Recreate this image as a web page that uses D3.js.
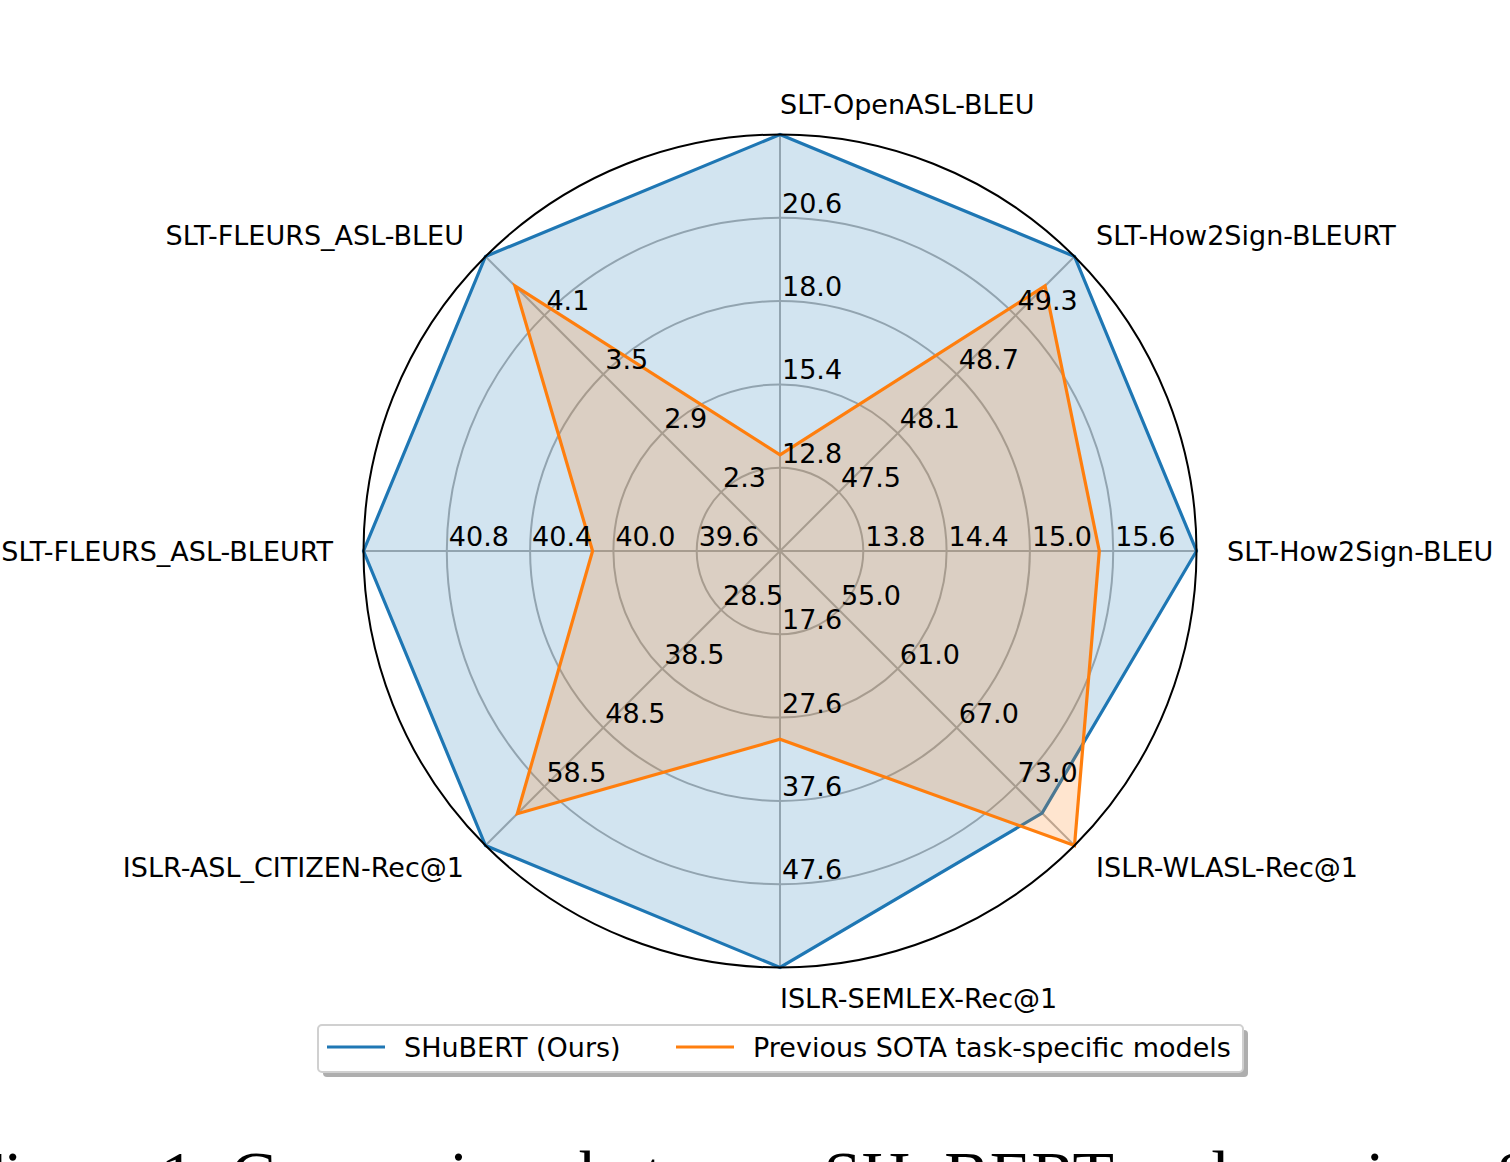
<!DOCTYPE html>
<html>
<head>
<meta charset="utf-8">
<script src="https://cdn.jsdelivr.net/npm/d3@7"></script>
<style>
  html, body { margin: 0; padding: 0; background: #fff; overflow: hidden; }
  svg { display: block; }
</style>
</head>
<body>
<svg id="chart" width="1510" height="1162"></svg>
<script>
// ---------- data ----------
const categories = [
  "SLT-OpenASL-BLEU",
  "SLT-How2Sign-BLEURT",
  "SLT-How2Sign-BLEU",
  "ISLR-WLASL-Rec@1",
  "ISLR-SEMLEX-Rec@1",
  "ISLR-ASL_CITIZEN-Rec@1",
  "SLT-FLEURS_ASL-BLEURT",
  "SLT-FLEURS_ASL-BLEU"
];
const rangeMin = [10.2, 46.9, 13.2, 49.0, 7.6, 18.5, 39.2, 1.7];
const rangeMax = [23.2, 49.9, 16.2, 79.0, 57.6, 68.5, 41.2, 4.7];
const tickValues = [
  [12.8, 15.4, 18.0, 20.6],
  [47.5, 48.1, 48.7, 49.3],
  [13.8, 14.4, 15.0, 15.6],
  [55.0, 61.0, 67.0, 73.0],
  [17.6, 27.6, 37.6, 47.6],
  [28.5, 38.5, 48.5, 58.5],
  [39.6, 40.0, 40.4, 40.8],
  [2.3, 2.9, 3.5, 4.1]
];
const seriesNames = ["SHuBERT (Ours)", "Previous SOTA task-specific models"];
const shubert = [23.2, 49.9, 16.2, 75.7, 57.6, 68.5, 41.2, 4.7];
const sota    = [13.2, 49.6, 15.5, 79.0, 30.2, 63.1, 40.1, 4.4];
const caption = "Figure 1: Comparison between SHuBERT and previous SOTA task-specific models across tasks.";

// ---------- layout ----------
const cx = 780, cy = 551, R = 416.5, labelR = 447;
const colors = ["#1f77b4", "#ff7f0e"];
const font = "DejaVu Sans, sans-serif";
const fs = 27;
const n = categories.length;
const angle = i => i * 2 * Math.PI / n;              // clockwise from top
const scales = categories.map((c, i) =>
  d3.scaleLinear().domain([rangeMin[i], rangeMax[i]]).range([0, R]));
const px = (a, r) => cx + r * Math.sin(a);
const py = (a, r) => cy - r * Math.cos(a);

const svg = d3.select("#chart");
const g = svg.append("g").attr("transform", `translate(${cx},${cy})`);

// grid circles (radii from the first axis' ticks)
g.selectAll("circle.grid").data(tickValues[0]).enter().append("circle")
  .attr("r", d => scales[0](d))
  .attr("fill", "none").attr("stroke", "#b0b0b0").attr("stroke-width", 2);

// radial axis lines
g.selectAll("line.axis").data(categories).enter().append("line")
  .attr("x1", 0).attr("y1", 0)
  .attr("x2", (d, i) => R * Math.sin(angle(i)))
  .attr("y2", (d, i) => -R * Math.cos(angle(i)))
  .attr("stroke", "#b0b0b0").attr("stroke-width", 2);

// series
const series = [shubert, sota];
const radial = d3.lineRadial()
  .angle((d, i) => angle(i))
  .radius((d, i) => scales[i](d))
  .curve(d3.curveLinearClosed);

series.forEach((vals, s) => {
  g.append("path").attr("d", radial(vals))
    .attr("fill", "none").attr("stroke", colors[s]).attr("stroke-width", 3.2)
    .attr("stroke-linejoin", "miter");
  g.append("path").attr("d", radial(vals))
    .attr("fill", colors[s]).attr("fill-opacity", 0.2).attr("stroke", "none");
});

// outer spine
g.append("circle").attr("r", R).attr("fill", "none")
  .attr("stroke", "#000").attr("stroke-width", 2);

// tick labels
categories.forEach((c, i) => {
  const a = angle(i);
  tickValues[i].forEach(v => {
    const r = scales[i](v);
    svg.append("text")
      .attr("x", px(a, r) + 2)
      .attr("y", py(a, r) - 5)
      .attr("font-family", font).attr("font-size", fs)
      .attr("fill", "#000")
      .text(d3.format(".1f")(v));
  });
});

// category labels
categories.forEach((c, i) => {
  const a = angle(i);
  const s = Math.sin(a);
  svg.append("text")
    .attr("x", px(a, labelR))
    .attr("y", py(a, labelR))
    .attr("dy", "0.36em")
    .attr("text-anchor", s < -0.01 ? "end" : "start")
    .attr("font-family", font).attr("font-size", fs)
    .attr("fill", "#000")
    .text(c);
});

// legend
const lg = svg.append("g");
const lx = 318, ly = 1025, lw = 925, lh = 47;
lg.append("rect").attr("x", lx + 5).attr("y", ly + 5).attr("width", lw).attr("height", lh)
  .attr("rx", 4).attr("fill", "#9a9a9a").attr("fill-opacity", 0.8);
lg.append("rect").attr("x", lx).attr("y", ly).attr("width", lw).attr("height", lh)
  .attr("rx", 4).attr("fill", "#fff").attr("stroke", "#d0d0d0").attr("stroke-width", 2);
const legendItemX = [327, 676];
seriesNames.forEach((name, s) => {
  const x0 = legendItemX[s];
  lg.append("line").attr("x1", x0).attr("x2", x0 + 58)
    .attr("y1", ly + 22).attr("y2", ly + 22)
    .attr("stroke", colors[s]).attr("stroke-width", 3.2);
  lg.append("text").attr("x", x0 + 77).attr("y", ly + 22).attr("dy", "0.36em")
    .attr("font-family", font).attr("font-size", fs).attr("fill", "#000")
    .text(name);
});

// partially visible caption (cut off by the bottom edge, as in the reference)
svg.append("text").attr("x", -34).attr("y", 1198)
  .attr("font-family", "Liberation Serif, Times New Roman, serif")
  .attr("font-size", 68).attr("fill", "#000")
  .text(caption);
</script>
</body>
</html>
